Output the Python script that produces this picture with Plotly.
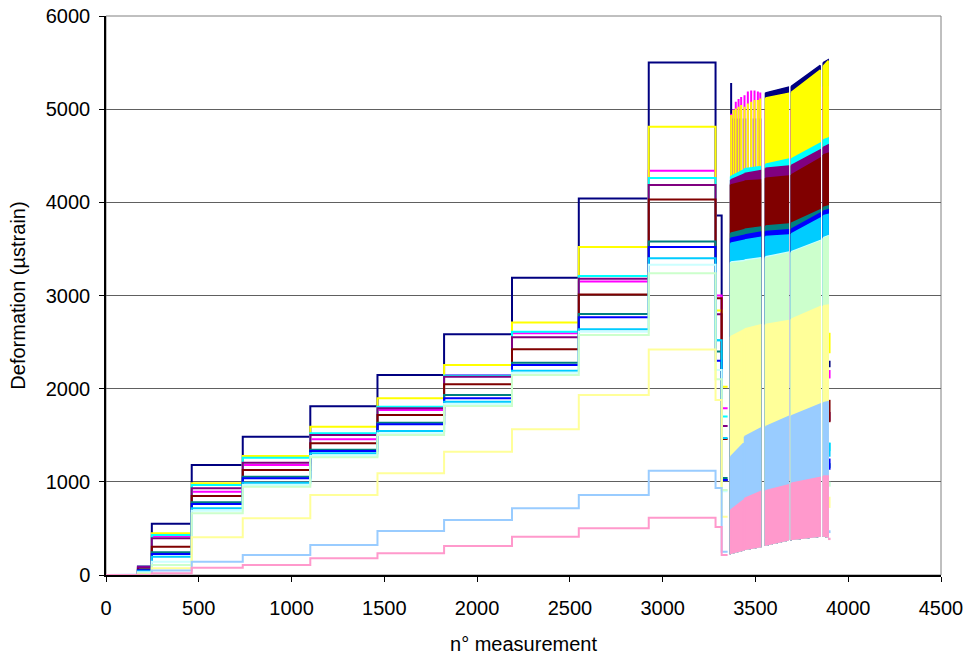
import plotly.graph_objects as go

# ---------------- data ----------------
SERIES_COLORS = ["#000080", "#FF00FF", "#FFFF00", "#00FFFF", "#800080", "#800000", "#008080",
                 "#0000FF", "#00CCFF", "#CCFFFF", "#CCFFCC", "#FFFF99", "#99CCFF", "#FF99CC"]

# boundaries of the load plateaus (n° measurement)
STEP_X = [0, 172, 247, 462, 737, 1101, 1463, 1822, 2188, 2548, 2925, 3285, 3318, 3350]

navy_steps = [0, 90, 550, 1180, 1485, 1810, 2147, 2585, 3190, 4040, 5500, 3860, 1020]
magenta_steps = [0, 80, 418, 894, 1181, 1456, 1771, 2147, 2594, 3150, 4340, 3000, 1790]
yellow_steps = [0, 70, 447, 984, 1277, 1592, 1897, 2254, 2710, 3520, 4810, 2840, 2020]
cyan_steps = [0, 70, 430, 966, 1259, 1521, 1806, 2140, 2611, 3209, 4260, 2520, 1700]
purple_steps = [0, 80, 394, 930, 1205, 1503, 1789, 2128, 2551, 3180, 4185, 2800, 1600]
darkred_steps = [0, 60, 304, 848, 1127, 1413, 1717, 2047, 2422, 3010, 4030, 2970, 1460]
teal_steps = [0, 50, 243, 780, 1055, 1345, 1635, 1932, 2279, 2801, 3580, 2400, 1040]
blue_steps = [0, 50, 225, 762, 1038, 1330, 1617, 1897, 2254, 2766, 3520, 2300, 1020]
skyblue_steps = [0, 40, 197, 716, 991, 1306, 1546, 1860, 2193, 2637, 3400, 2520, 1470]
turquoise_steps = [0, 30, 143, 690, 966, 1277, 1521, 1835, 2171, 2610, 3330, 2200, 900]
lightgreen_steps = [0, 20, 107, 662, 948, 1263, 1503, 1814, 2147, 2576, 3240, 2100, 912]
lightyellow_steps = [0, 10, 72, 405, 608, 859, 1092, 1324, 1564, 1932, 2420, 1878, 626]
paleblue_steps = [0, 5, 47, 143, 215, 322, 472, 590, 716, 859, 1120, 935, 250]
rose_steps = [0, 0, 18, 79, 107, 179, 233, 311, 411, 501, 615, 515, 215]

# cyclic part: strips of dense cycles (start/end pairs)
ANCHOR_X = [3366, 3436, 3441, 3527, 3554, 3677, 3693, 3849, 3865, 3892]
OSC_LOW = [233, 268, 275, 305, 322, 376, 383, 419, 419, 410]

navy_top = [4200, 4200, 4200, 4200, 5175, 5235, 5245, 5470, 5500, 5530]
magenta_top = [4200, 4200, 4200, 4200, 5000, 5000, 5000, 5240, 5240, 5240]
yellow_top = [4200, 4200, 4200, 4200, 5120, 5170, 5180, 5420, 5460, 5520]
cyan_top = [4276, 4347, 4360, 4383, 4408, 4462, 4465, 4633, 4669, 4690]
purple_top = [4240, 4300, 4310, 4340, 4365, 4390, 4395, 4562, 4590, 4616]
darkred_top = [4186, 4222, 4228, 4240, 4258, 4283, 4294, 4472, 4508, 4526]
teal_top = [3668, 3704, 3710, 3735, 3747, 3768, 3775, 3918, 3945, 3960]
blue_top = [3614, 3645, 3650, 3680, 3686, 3705, 3712, 3882, 3905, 3920]
skyblue_top = [3560, 3590, 3595, 3625, 3632, 3650, 3660, 3829, 3855, 3870]
turquoise_top = [3360, 3375, 3380, 3405, 3415, 3465, 3470, 3590, 3620, 3640]
lightgreen_top = [3346, 3360, 3365, 3390, 3400, 3454, 3460, 3579, 3610, 3632]
lightyellow_top = [2558, 2630, 2640, 2684, 2690, 2730, 2745, 2880, 2890, 2898]
paleblue_top = [1270, 1413, 1485, 1574, 1592, 1700, 1707, 1835, 1850, 1860]
rose_top = [698, 805, 823, 895, 905, 966, 984, 1048, 1063, 1063]

# isolated first cycles of the three highest gauges
SPIKE_X = [3369, 3382, 3394, 3409, 3423, 3441, 3459, 3477, 3495, 3513, 3526]
SPIKE_BASE = 300
navy_spike = [5280, 4900, 4900, 4900, 4900, 4900, 4900, 4900, 4900, 4900, 4900]
magenta_spike = [4950, 5000, 5080, 5110, 5130, 5150, 5190, 5200, 5200, 5190, 5180]
yellow_spike = [4938, 4991, 5008, 5026, 5044, 5026, 5062, 5080, 5098, 5098, 5115]

# final unloaded readings
END_X = 3898
END_HI = [2300, 2200, 2600, 1420, 1750, 1880, 1200, 1250, 1420, 1000, 1000, 840, 480, 400]
END_LO = [2230, 2110, 2380, 1330, 1650, 1640, 1150, 1130, 1270, 950, 950, 720, 450, 375]

X_TICKS = [0, 500, 1000, 1500, 2000, 2500, 3000, 3500, 4000, 4500]
Y_TICKS = [0, 1000, 2000, 3000, 4000, 5000, 6000]

# ---------------- assemble ----------------
ALL_STEPS = [navy_steps, magenta_steps, yellow_steps, cyan_steps, purple_steps, darkred_steps,
             teal_steps, blue_steps, skyblue_steps, turquoise_steps, lightgreen_steps,
             lightyellow_steps, paleblue_steps, rose_steps]
ALL_TOPS = [navy_top, magenta_top, yellow_top, cyan_top, purple_top, darkred_top, teal_top,
            blue_top, skyblue_top, turquoise_top, lightgreen_top, lightyellow_top,
            paleblue_top, rose_top]
SPIKES = {0: navy_spike, 1: magenta_spike, 2: yellow_spike}

fig = go.Figure()

for s, color in enumerate(SERIES_COLORS):
    lev = ALL_STEPS[s]
    xs, ys = [], []
    for i, v in enumerate(lev):
        xs += [STEP_X[i], STEP_X[i + 1]]
        ys += [v, v]
    fig.add_trace(go.Scatter(x=xs, y=ys, mode="lines",
                             line=dict(color=color, width=2), hoverinfo="skip"))

    top = ALL_TOPS[s]
    px_, py_ = [], []
    for k in range(0, len(ANCHOR_X), 2):
        a0, a1 = ANCHOR_X[k], ANCHOR_X[k + 1]
        px_ += [a0, a1, a1, a0, a0, None]
        py_ += [top[k], top[k + 1], OSC_LOW[k + 1], OSC_LOW[k], top[k], None]
    fig.add_trace(go.Scatter(x=px_, y=py_, mode="lines", fill="toself", fillcolor=color,
                             line=dict(color=color, width=1.5), connectgaps=False,
                             hoverinfo="skip"))

    if s in SPIKES:
        sx, sy = [], []
        for xv, tv in zip(SPIKE_X, SPIKES[s]):
            sx += [xv, xv, None]
            sy += [SPIKE_BASE, tv, None]
        fig.add_trace(go.Scatter(x=sx, y=sy, mode="lines", line=dict(color=color, width=2),
                                 connectgaps=False, hoverinfo="skip"))

    fig.add_trace(go.Scatter(x=[END_X, END_X], y=[END_HI[s], END_LO[s]], mode="lines",
                             line=dict(color=color, width=2.5), hoverinfo="skip"))

FONT = "Liberation Sans, Arial, sans-serif"

fig.update_layout(
    width=965, height=656,
    margin=dict(l=106, r=24, t=16, b=81),
    paper_bgcolor="white", plot_bgcolor="white",
    showlegend=False,
    font=dict(family=FONT, size=20, color="black"),
    shapes=[dict(type="rect", xref="paper", yref="paper", x0=0, y0=0, x1=1, y1=1,
                 line=dict(color="#808080", width=1), layer="below")],
)
fig.update_xaxes(range=[0, 4500], tickvals=X_TICKS, ticktext=[str(v) for v in X_TICKS],
                 automargin=False,
                 showgrid=False, zeroline=False, showline=True, linecolor="black",
                 linewidth=1.5, ticks="outside", ticklen=5, tickcolor="black",
                 ticklabelstandoff=9, tickfont=dict(size=20),
                 title=dict(text="n° measurement", font=dict(size=20), standoff=19))
fig.update_yaxes(range=[0, 6000], tickvals=Y_TICKS, ticktext=[str(v) for v in Y_TICKS],
                 automargin=False,
                 showgrid=True, gridcolor="#606060", gridwidth=1, zeroline=False,
                 showline=True, linecolor="black", linewidth=1.5, ticks="outside",
                 ticklen=5, tickcolor="black", ticklabelstandoff=5, tickfont=dict(size=20),
                 title=dict(text="Deformation (µstrain)", font=dict(size=20), standoff=15))

fig.write_html("out.html", config={"displayModeBar": False},
               post_script="document.body.style.margin='0';document.body.style.overflow='hidden';")
